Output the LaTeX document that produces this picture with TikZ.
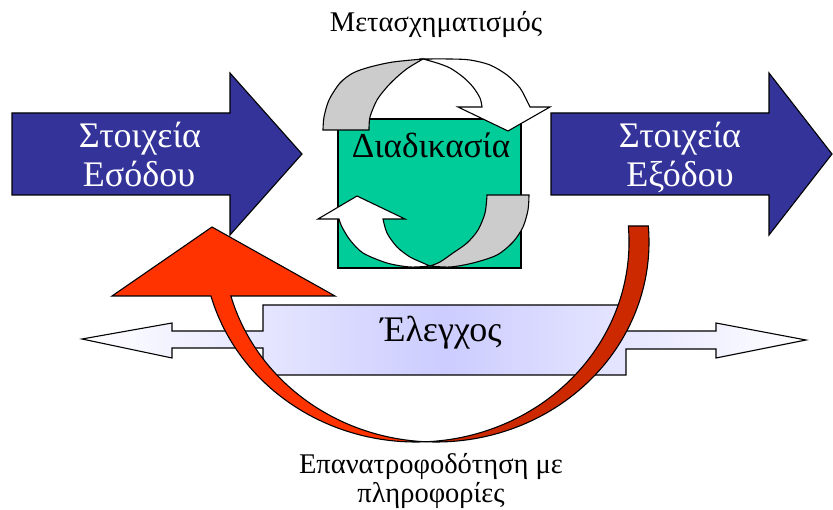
\documentclass[tikz,border=0pt]{standalone}
\usepackage{fontspec}
\setmainfont{Liberation Serif}
\definecolor{navyblue}{RGB}{51,51,153}
\definecolor{boxgreen}{RGB}{0,204,153}
\definecolor{ribbongray}{RGB}{204,204,204}
\definecolor{fbred}{RGB}{255,51,0}
\definecolor{fbdark}{RGB}{204,41,0}
\definecolor{lav}{RGB}{204,204,255}
\begin{document}
\begin{tikzpicture}[x=1pt,y=-1pt,
  outline/.style={draw=black, line width=1.1pt, line join=miter},
  bigtext/.style={font=\fontsize{36}{42}\selectfont, inner sep=0pt, anchor=base},
  midtext/.style={font=\fontsize{28.5}{33}\selectfont, inner sep=0pt, anchor=base}]
\useasboundingbox (0,0) rectangle (833,510);

% input / output block arrows
\path[outline, fill=navyblue] (12,113) -- (230,113) -- (230,73) -- (302,154)
  -- (230,235) -- (230,195) -- (12,195) -- cycle;
\path[outline, fill=navyblue] (551,113) -- (769,113) -- (769,73) -- (832,154)
  -- (769,235) -- (769,195) -- (551,195) -- cycle;

% process box
\path[outline, fill=boxgreen] (338,119) rectangle (521,268);

% upper circular ribbon (curved down arrow)
\path[outline, fill=ribbongray]
  plot[smooth] coordinates {(323,130) (324,117) (329,100) (340,83) (353,73) (370,67) (393,62) (423,59)}
  -- plot[smooth] coordinates {(423,59) (408,68) (397,77) (387,87) (377,100) (370,117) (369,130)}
  -- cycle;
\path[outline, fill=white]
  plot[smooth] coordinates {(423,59) (450,59) (470,60) (490,65) (507,75) (520,88) (528,103) (530,107)}
  -- (550,107) -- (508,131) -- (458,107) -- (482,107)
  -- plot[smooth] coordinates {(482,107) (480,98) (473,87) (463,77) (450,68) (437,63) (423,59)}
  -- cycle;

% lower circular ribbon (curved up arrow)
\path[outline, fill=ribbongray]
  plot[smooth] coordinates {(529,195) (528,210) (523,227) (513,242) (497,255) (473,263) (450,267) (430,266)}
  -- plot[smooth] coordinates {(430,266) (440,262) (453,253) (467,243) (478,230) (485,213) (487,195)}
  -- cycle;
\path[outline, fill=white]
  plot[smooth] coordinates {(430,266) (410,267) (387,263) (363,253) (350,240) (342,227) (339,219)}
  -- (318,219) -- (357,196) -- (405,219) -- (383,219)
  -- plot[smooth] coordinates {(383,219) (387,233) (397,247) (410,257) (423,263) (430,266)}
  -- cycle;

% control: left-right arrow callout
\path[outline, left color=white, right color=white, middle color=lav]
  (82,339) -- (172,323) -- (172,331) -- (263,331) -- (263,305) -- (626,305)
  -- (626,331) -- (716,331) -- (716,323) -- (806,340) -- (716,358) -- (716,349)
  -- (626,349) -- (626,375) -- (263,375) -- (263,348) -- (172,348) -- (172,358) -- cycle;

% feedback arrow: two equal ellipses, centres (416,242) and (436,242)
% dark back part (right)
\path[outline, fill=fbdark]
  (648.32,226) arc[start angle=-4.59, end angle=92.69, x radius=213, y radius=200]
  arc[start angle=87.31, end angle=-4.59, x radius=213, y radius=200]
  -- cycle;
% bright front part (left) with head
\path[outline, fill=fbred]
  (426,441.77) arc[start angle=87.31, end angle=164.34, x radius=213, y radius=200]
  -- (112,296) -- (212,227) -- (335,296) -- (230.9,296)
  arc[start angle=164.34, end angle=92.69, x radius=213, y radius=200]
  -- cycle;

% labels
\node[bigtext, text=white] (inA) at (140,148) {Στοιχεία};
\node[bigtext, text=white] (inB) at (139,187) {Εσόδου};
\node[bigtext, text=white] (outA) at (680,148) {Στοιχεία};
\node[bigtext, text=white] (outB) at (680,187) {Εξόδου};
\node[font=\fontsize{35}{40}\selectfont, inner sep=0pt, anchor=base] (proc) at (431,158) {Διαδικασία};
\node[midtext] (trans) at (436,32) {Μετασχηματισμός};
\node[font=\fontsize{36}{42}\selectfont, inner sep=0pt, anchor=base] (ctrl) at (441,342) {Έλεγχος};
\node[midtext] (fbA) at (431,474) {Επανατροφοδότηση με};
\node[midtext] (fbB) at (431,502) {πληροφορίες};
\end{tikzpicture}
\end{document}
